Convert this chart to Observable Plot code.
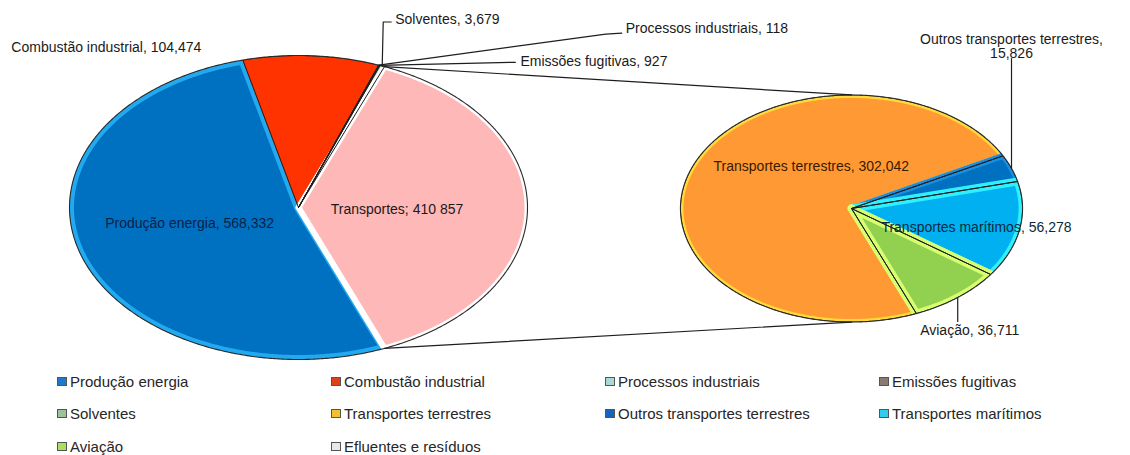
<!DOCTYPE html>
<html><head><meta charset="utf-8">
<script src="https://cdn.jsdelivr.net/npm/d3@7"></script>
<script src="https://cdn.jsdelivr.net/npm/@observablehq/plot@0.6"></script>
<style>
body{margin:0;background:#fff;font-family:"Liberation Sans",Arial,sans-serif;}
#chart svg{display:block;}
#legend{display:grid;grid-template-columns:repeat(4,274px);grid-auto-rows:32.5px;padding-left:57px;margin-top:-3px;font-size:15px;color:#262626;}
#legend .item{display:flex;align-items:center;}
#legend .sw{width:8px;height:7px;border:1px solid #555;margin-right:3px;}
</style></head><body>
<div id="chart"></div><div id="legend"></div>
<script>
// ---- data ----
const firstCategories = ["Produção energia", "Combustão industrial", "Processos industriais", "Emissões fugitivas", "Solventes"];
const firstValues = [568332, 104474, 118, 927, 3679];
const combinedCategory = "Transportes";
const secondCategories = ["Transportes terrestres", "Outros transportes terrestres", "Transportes marítimos", "Aviação"];
const secondValues = [302042, 15826, 56278, 36711];
const legendCategories = ["Produção energia", "Combustão industrial", "Processos industriais", "Emissões fugitivas", "Solventes", "Transportes terrestres", "Outros transportes terrestres", "Transportes marítimos", "Aviação", "Efluentes e resíduos"];

// ---- styles ----
const sliceStyle = {
  "Transportes": {fill: "#ffb8b8", band: "#ffffff", bw: 6, outline: false},
  "Produção energia": {fill: "#0070c0", band: "#22aaf0", bw: 9, outline: false},
  "Combustão industrial": {fill: "#ff3300", band: "#ff3300", bw: 1, outline: true},
  "Processos industriais": {fill: "#a6d4d4", band: "#a6d4d4", bw: 1, outline: true},
  "Emissões fugitivas": {fill: "#8b7d72", band: "#8b7d72", bw: 1, outline: true},
  "Solventes": {fill: "#9cc89c", band: "#9cc89c", bw: 1, outline: true},
  "Transportes terrestres": {fill: "#ff9933", band: "#ffd93a", bw: 6, outline: true},
  "Outros transportes terrestres": {fill: "#0070c0", band: "#1a8fe0", bw: 6, outline: true},
  "Transportes marítimos": {fill: "#00b0f0", band: "#2ef0ff", bw: 8, outline: true},
  "Aviação": {fill: "#92d050", band: "#d8ff70", bw: 8, outline: true}
};
const legendColors = ["#1f77c8", "#e0401a", "#a8d8d8", "#8a7a70", "#9cc49c", "#f0c030", "#1565c0", "#33ccee", "#a8e060", "#e8e8e8"];

// ---- layout ----
const W = 1130, H = 368;
const ux = 229, uy = 152;           // pixels per unit (left pie radius)
const X = p => (p - 298) / ux, Y = p => (p - 207) / uy;
const L = {cx: 0, cy: 0, r: 1};
const R = {cx: X(851), cy: Y(208), r: 0.747};
const rightStart = 157.7 * Math.PI / 180;
const deg = Math.PI / 180;
const maxBw = 9;

const fmt = d3.format(",");
const total2 = d3.sum(secondValues);

function pt(c, a, f = 1) { return {x: c.cx + c.r * f * Math.sin(a), y: c.cy - c.r * f * Math.cos(a)}; }
function slicePts(c, a0, a1) {
  const pts = [{x: c.cx, y: c.cy}];
  const n = Math.max(2, Math.ceil((a1 - a0) / (0.5 * deg)));
  for (let i = 0; i <= n; i++) pts.push(pt(c, a0 + (a1 - a0) * i / n));
  pts.push({x: c.cx, y: c.cy});
  return pts;
}
function ring(c, offPx) {
  const pts = [];
  for (let i = 0; i <= 720; i++) { const a = i * 0.5 * deg; pts.push({x: c.cx + (c.r + offPx / ux) * Math.sin(a), y: c.cy - (c.r + offPx / uy) * Math.cos(a)}); }
  return pts;
}

// left pie: combined slice centred at 3 o'clock
const leftData = [{name: combinedCategory, v: total2}, ...firstCategories.map((n, i) => ({name: n, v: firstValues[i]}))];
const shareT = total2 / d3.sum(leftData, d => d.v);
const leftStart = Math.PI / 2 - shareT * Math.PI;
const leftArcs = d3.pie().sort(null).value(d => d.v).startAngle(leftStart).endAngle(leftStart + 2 * Math.PI)(leftData);
const rightData = secondCategories.map((n, i) => ({name: n, v: secondValues[i]}));
const rightArcs = d3.pie().sort(null).value(d => d.v).startAngle(rightStart).endAngle(rightStart + 2 * Math.PI)(rightData);

const byName = {};
leftArcs.forEach(a => byName[a.data.name] = a);
rightArcs.forEach(a => byName[a.data.name] = a);
const mid = a => (a.startAngle + a.endAngle) / 2;

const marks = [];
for (const a of [...leftArcs.slice(1), leftArcs[0]].concat(rightArcs)) {
  const s = sliceStyle[a.data.name];
  const c = leftArcs.includes(a) ? L : R;
  marks.push(Plot.line(slicePts(c, a.startAngle, a.endAngle), {x: "x", y: "y", fill: s.fill, stroke: s.band, strokeWidth: s.bw, strokeLinejoin: "round", curve: "linear"}));
}
for (const a of leftArcs.concat(rightArcs)) {
  const s = sliceStyle[a.data.name];
  if (!s.outline) continue;
  const c = leftArcs.includes(a) ? L : R;
  marks.push(Plot.line(slicePts(c, a.startAngle, a.endAngle), {x: "x", y: "y", stroke: "#1e1e1e", strokeWidth: 1, strokeLinejoin: "round"}));
}
// mask outside bands + outer outline
for (const c of [L, R]) {
  marks.push(Plot.line(ring(c, maxBw / 4 + 0.4), {x: "x", y: "y", stroke: "#fff", strokeWidth: maxBw / 2 + 0.6}));
  marks.push(Plot.line(ring(c, 0), {x: "x", y: "y", stroke: "#2a2a2a", strokeWidth: 1.1}));
}
// series lines (pie-of-pie connectors)
const T = leftArcs[0];
marks.push(Plot.line([pt(L, T.startAngle), pt(R, 0)], {x: "x", y: "y", stroke: "#1e1e1e", strokeWidth: 1.2}));
marks.push(Plot.line([pt(L, T.endAngle), pt(R, Math.PI)], {x: "x", y: "y", stroke: "#1e1e1e", strokeWidth: 1.2}));

// labels
const lab = (name, v) => `${name}, ${fmt(v)}`;
const off = (p, dxp, dyp) => ({x: p.x + dxp / ux, y: p.y + dyp / uy});
const textOpts = {x: "x", y: "y", text: "t", fontSize: 14, fill: "#1a1a1a", fontFamily: "Liberation Sans, Arial, sans-serif"};
function label(p, t, opts = {}) { marks.push(Plot.text([{...p, t}], {...textOpts, ...opts})); }
function leader(points) { marks.push(Plot.line(points, {x: "x", y: "y", stroke: "#1e1e1e", strokeWidth: 1.2})); }

{
  const a = byName["Produção energia"]; label(off(pt(L, mid(a), 0.5), 0, -8), lab(a.data.name, a.data.v), {fill: "#0d2147"});
  label(off(pt(L, mid(T), 0.43), 0, 2), `${combinedCategory}; ${fmt(T.data.v).replace(/,/g, " ")}`);
  const b = byName["Transportes terrestres"]; label(off(pt(R, mid(b), 0.25), 0, -32), lab(b.data.name, b.data.v), {fill: "#3a1a00"});
  const m = byName["Transportes marítimos"]; label(off(pt(R, mid(m), 0.72), 4, 4), lab(m.data.name, m.data.v), {fill: "#062a40"});
}
{ const a = byName["Combustão industrial"]; label(off(pt(L, mid(a)), -205, -8), lab(a.data.name, a.data.v)); }
{ const a = byName["Solventes"]; const e = pt(L, mid(a));
  leader([e, off(e, 1, -44), off(e, 9, -44)]);
  label(off(e, 13, -47), lab(a.data.name, a.data.v), {textAnchor: "start"}); }
{ const a = byName["Processos industriais"]; const e = pt(L, mid(a));
  leader([e, off(e, 227, -31), off(e, 243, -32)]);
  label(off(e, 247, -37), lab(a.data.name, a.data.v), {textAnchor: "start"}); }
{ const a = byName["Emissões fugitivas"]; const e = pt(L, mid(a));
  leader([e, off(e, 136, -3)]);
  label(off(e, 141, -4), lab(a.data.name, a.data.v), {textAnchor: "start"}); }
{ const a = byName["Outros transportes terrestres"]; const e = pt(R, mid(a));
  leader([e, {x: e.x, y: Y(58)}]);
  label({x: e.x, y: Y(57)}, `${a.data.name},\n${fmt(a.data.v)}`, {lineAnchor: "bottom"}); }
{ const a = byName["Aviação"]; const e = pt(R, mid(a));
  leader([e, off(e, 0, 24)]);
  label(off(e, 12, 33), lab(a.data.name, a.data.v)); }

const chart = Plot.plot({
  width: W, height: H, margin: 0,
  x: {domain: [X(0), X(W)], range: [0, W], axis: null},
  y: {domain: [Y(0), Y(H)], range: [0, H], axis: null},
  style: {background: "#fff"},
  marks
});
document.getElementById("chart").appendChild(chart);

const lg = document.getElementById("legend");
legendCategories.forEach((n, i) => {
  const d = document.createElement("div"); d.className = "item";
  const s = document.createElement("span"); s.className = "sw"; s.style.background = legendColors[i];
  const t = document.createElement("span"); t.textContent = n;
  d.appendChild(s); d.appendChild(t); lg.appendChild(d);
});
</script>
</body></html>
